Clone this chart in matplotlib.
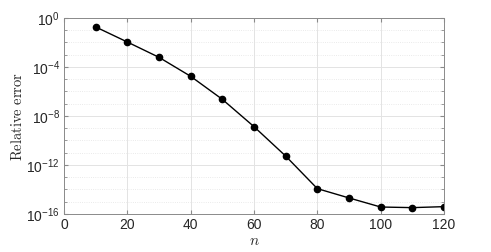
import numpy as np
import matplotlib
matplotlib.use("Agg")
import matplotlib.pyplot as plt
from matplotlib.ticker import FixedLocator, FuncFormatter

plt.rcParams['mathtext.fontset'] = 'custom'
plt.rcParams['mathtext.rm'] = 'Liberation Sans'
plt.rcParams['mathtext.it'] = 'Liberation Sans:italic'
plt.rcParams['font.family'] = 'Liberation Sans'

n = [10, 20, 30, 40, 50, 60, 70, 80, 90, 100, 110, 120]
log_err = [-0.73, -1.96, -3.21, -4.76, -6.64, -8.87, -11.27, -13.93, -14.69, -15.43, -15.48, -15.40]
err = [10.0 ** e for e in log_err]

fig = plt.figure(figsize=(4.91, 2.52), dpi=100)
ax = fig.add_axes([0.1303, 0.1508, 0.774, 0.7778])

ax.semilogy(n, err, '-o', color='k', lw=1.0, ms=4.5)

ax.set_xlim(0, 120)
ax.set_ylim(1e-16, 1)
ax.set_xticks([0, 20, 40, 60, 80, 100, 120])
ax.yaxis.set_major_locator(FixedLocator([10.0 ** k for k in range(-16, 1, 4)]))
ax.yaxis.set_minor_locator(FixedLocator([10.0 ** k for k in range(-16, 1)]))
ax.yaxis.set_major_formatter(FuncFormatter(lambda v, p: r'$10^{%d}$' % round(np.log10(v))))
ax.yaxis.set_minor_formatter(FuncFormatter(lambda v, p: ''))

ax.grid(True, which='major', color='#e3e3e3', lw=0.7, ls='-')
ax.grid(True, which='minor', axis='y', color='#e3e3e3', lw=0.6, ls=':')
ax.set_axisbelow(True)

for s in ax.spines.values():
    s.set_color('#8a8a8a')
    s.set_linewidth(0.7)
ax.tick_params(which='both', direction='in', top=True, right=True, colors='#8a8a8a',
               labelsize=10, labelcolor='#262626', pad=3)
ax.tick_params(which='major', length=3)
ax.tick_params(which='minor', length=2)

ax.set_ylabel(r'$\mathrm{Relative\ error}$', math_fontfamily='cm', fontsize=10.5, labelpad=1,
              color='#262626')
ax.set_xlabel(r'$n$', math_fontfamily='cm', fontsize=11, labelpad=1, color='#262626')

fig.savefig('out.png', dpi=100)
